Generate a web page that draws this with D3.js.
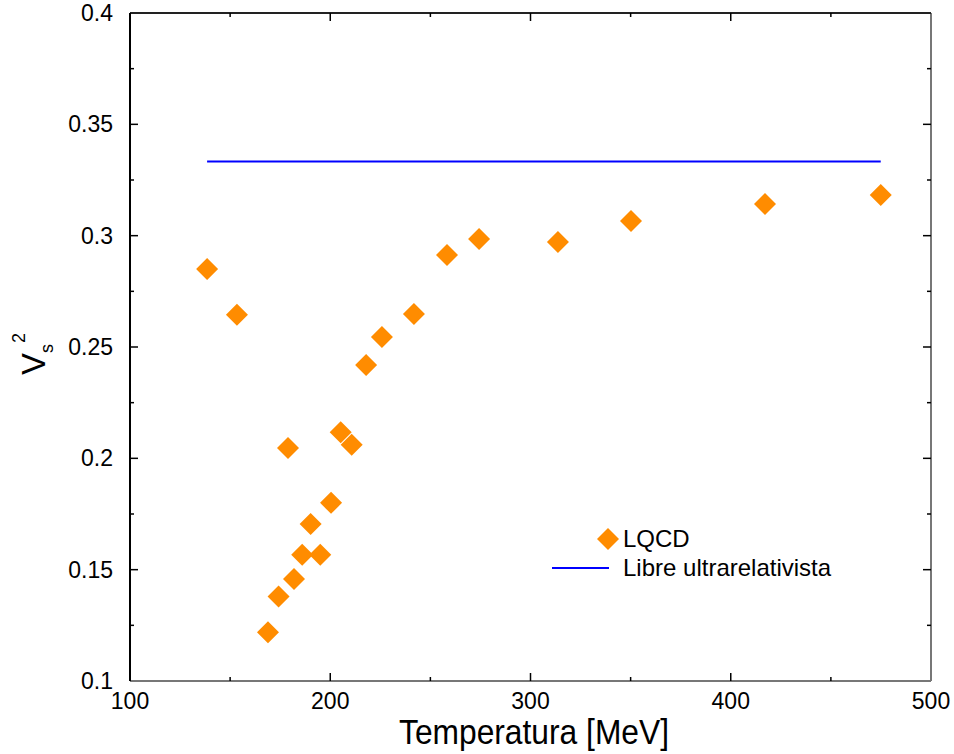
<!DOCTYPE html>
<html>
<head>
<meta charset="utf-8">
<script src="https://cdn.jsdelivr.net/npm/d3@7"></script>
<style>
  body { margin: 0; background: #fff; }
  text { font-family: "Liberation Sans", Arial, sans-serif; fill: #000; }
</style>
</head>
<body>
<div id="container-svg"></div>
<script>
// LQCD points
var temps = [138.5, 153.4, 168.9, 174.2, 178.9, 181.9, 186.0, 190.2, 195.0, 200.4,
             205.2, 210.7, 217.9, 225.8, 241.8, 258.3, 274.3, 313.7, 350.2, 417.1, 474.9];
var vs2   = [0.285, 0.2645, 0.1219, 0.138, 0.2046, 0.1458, 0.1567, 0.1705, 0.1567, 0.180,
             0.2117, 0.2061, 0.2419, 0.2545, 0.2648, 0.2913, 0.2985, 0.2972, 0.3066, 0.3142, 0.3183];

// ideal gas limit 1/3
var free_T = [138.5, 474.9];
var free_v = [1/3, 1/3];

var x_ticks = [100, 200, 300, 400, 500];
var y_ticks = [0.1, 0.15, 0.2, 0.25, 0.3, 0.35, 0.4];

var svg_width = 954, svg_height = 754;
var left = 130, right = 931, top_ = 13, bottom = 681;

var svg = d3.select("#container-svg").append("svg")
    .attr("width", svg_width)
    .attr("height", svg_height);

var scale_x = d3.scaleLinear().domain([100, 500]).range([left, right]);
var scale_y = d3.scaleLinear().domain([0.1, 0.4]).range([bottom, top_]);

// minor ticks at midpoints
var x_minor = d3.range(150, 500, 100);
var y_minor = d3.range(0.125, 0.4, 0.05);

// ***** frame *****
svg.append("line").attr("x1", left).attr("x2", right).attr("y1", bottom).attr("y2", bottom)
    .attr("stroke", "#777").attr("stroke-width", 2);
svg.append("line").attr("x1", right).attr("x2", right).attr("y1", top_).attr("y2", bottom)
    .attr("stroke", "#777").attr("stroke-width", 2);
svg.append("line").attr("x1", left).attr("x2", right).attr("y1", top_).attr("y2", top_)
    .attr("stroke", "#222").attr("stroke-width", 2);
svg.append("line").attr("x1", left).attr("x2", left).attr("y1", top_).attr("y2", bottom)
    .attr("stroke", "#000").attr("stroke-width", 2);

// ***** ticks (inward, all four sides) *****
function xTicks(vals, len) {
    vals.forEach(function(v) {
        var x = scale_x(v);
        svg.append("line").attr("x1", x).attr("x2", x).attr("y1", bottom).attr("y2", bottom - len)
            .attr("stroke", "#000").attr("stroke-width", 1.5);
        svg.append("line").attr("x1", x).attr("x2", x).attr("y1", top_).attr("y2", top_ + len)
            .attr("stroke", "#000").attr("stroke-width", 1.5);
    });
}
function yTicks(vals, len) {
    vals.forEach(function(v) {
        var y = scale_y(v);
        svg.append("line").attr("x1", left).attr("x2", left + len).attr("y1", y).attr("y2", y)
            .attr("stroke", "#000").attr("stroke-width", 1.5);
        svg.append("line").attr("x1", right).attr("x2", right - len).attr("y1", y).attr("y2", y)
            .attr("stroke", "#000").attr("stroke-width", 1.5);
    });
}
xTicks(x_ticks.slice(1, -1), 8);
xTicks(x_minor, 4);
yTicks(y_ticks.slice(1, -1), 8);
yTicks(y_minor, 4);

// ***** tick labels *****
svg.selectAll("text.xlab")
    .data(x_ticks)
    .enter()
    .append("text")
    .attr("class", "xlab")
    .attr("x", function(d) { return scale_x(d); })
    .attr("y", 709)
    .attr("text-anchor", "middle")
    .attr("font-size", 23)
    .text(function(d) { return d; });

svg.selectAll("text.ylab")
    .data(y_ticks)
    .enter()
    .append("text")
    .attr("class", "ylab")
    .attr("x", 113)
    .attr("y", function(d) { return scale_y(d) + 8; })
    .attr("text-anchor", "end")
    .attr("font-size", 23)
    .text(function(d) { return d3.format("~g")(d); });

// ***** axis titles *****
svg.append("text")
    .attr("x", 399)
    .attr("y", 744)
    .attr("font-size", 35)
    .attr("textLength", 270)
    .attr("lengthAdjust", "spacingAndGlyphs")
    .text("Temperatura [MeV]");

var ylab = svg.append("text")
    .attr("transform", "translate(45,375) rotate(-90)")
    .attr("font-size", 33)
    .text("V");
ylab.append("tspan").attr("font-size", 18).attr("dy", 8).text("s");
ylab.append("tspan").attr("font-size", 18).attr("dx", 1).attr("dy", -28).text("2");

// ***** free gas line *****
var line = d3.line()
    .x(function(d, i) { return scale_x(free_T[i]); })
    .y(function(d) { return scale_y(d); });

svg.append("path")
    .attr("d", line(free_v))
    .attr("fill", "none")
    .attr("stroke", "#0000ff")
    .attr("stroke-width", 2);

// ***** LQCD diamonds *****
var diamond = "M0,-11L11,0L0,11L-11,0Z";
svg.selectAll("path.pts")
    .data(temps)
    .enter()
    .append("path")
    .attr("class", "pts")
    .attr("d", diamond)
    .attr("transform", function(d, i) {
        return "translate(" + scale_x(d) + "," + scale_y(vs2[i]) + ")";
    })
    .attr("fill", "#ff8c00");

// ***** legend *****
svg.append("path")
    .attr("d", diamond)
    .attr("transform", "translate(608,539)")
    .attr("fill", "#ff8c00");
svg.append("text").attr("x", 623).attr("y", 547).attr("font-size", 24).text("LQCD");

svg.append("line")
    .attr("x1", 552).attr("x2", 609).attr("y1", 568).attr("y2", 568)
    .attr("stroke", "#0000ff").attr("stroke-width", 2);
svg.append("text").attr("x", 623).attr("y", 576).attr("font-size", 24).text("Libre ultrarelativista");
</script>
</body>
</html>
